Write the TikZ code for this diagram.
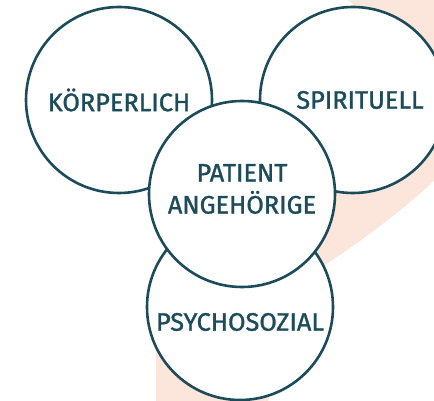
\documentclass[tikz,border=0pt]{standalone}
\usepackage{fontspec}
\setmainfont{Fira Sans}
\newfontfamily\boldishfont{Fira Sans}[FakeBold=1.2]

\definecolor{petrol}{HTML}{1C4B5A}
\definecolor{peach}{HTML}{FCE5DA}

\tikzset{
    sphere/.style={circle, draw=petrol, line width=2.6pt, fill=white, minimum size=186pt, inner sep=0pt},
    caption/.style={text=petrol, font=\boldishfont\fontsize{25.3}{32}\selectfont, align=center, inner sep=0pt}
}

\begin{document}
\begin{tikzpicture}[x=1pt, y=-1pt]
    \useasboundingbox (0,0) rectangle (434,401);

    % Draw background swoosh
    \fill[peach] (340,-5) .. controls (420,40) and (330,140) .. (280,190)
        .. controls (210,260) and (156,300) .. (156,360) -- (156,405) -- (268,405)
        .. controls (275,330) and (300,285) .. (322,267)
        .. controls (370,235) and (410,205) .. (445,170) -- (445,-5) -- cycle;

    % Draw outer circles
    \node[sphere] (body) at (119,100) {};
    \node[sphere] (spirit) at (353,100) {};
    \node[sphere] (social) at (240,307) {};

    % Draw centre circle on top
    \node[sphere] (core) at (242,194) {};

    % Labels
    \node[caption] (bodytext) at (body) {KÖRPERLICH};
    \node[caption] (spirittext) at ([xshift=7pt]spirit) {SPIRITUELL};
    \node[caption] (socialtext) at ([yshift=-15pt]social) {PSYCHOSOZIAL};
    \node[caption] (coretext) at ([yshift=5pt]core) {PATIENT\\ANGEHÖRIGE};
\end{tikzpicture}
\end{document}
